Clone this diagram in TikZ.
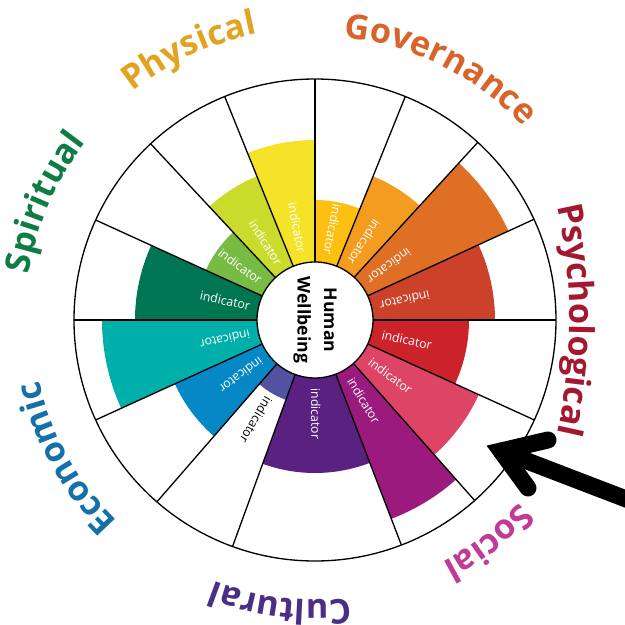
\documentclass[tikz,border=0pt]{standalone}
\usepackage{fontspec}
\setmainfont{Open Sans}
\usetikzlibrary{decorations.text}

% sector colours
\definecolor{cGold}{HTML}{FDC010}
\definecolor{cOrange}{HTML}{F39C1F}
\definecolor{cDarkOrange}{HTML}{DE6F24}
\definecolor{cVermilion}{HTML}{CB4129}
\definecolor{cRed}{HTML}{CC2229}
\definecolor{cPink}{HTML}{DE4465}
\definecolor{cMagenta}{HTML}{9A1A7E}
\definecolor{cPurple}{HTML}{5B2180}
\definecolor{cViolet}{HTML}{5252A0}
\definecolor{cBlue}{HTML}{0687C6}
\definecolor{cTeal}{HTML}{00AFAA}
\definecolor{cDarkGreen}{HTML}{007552}
\definecolor{cLightGreen}{HTML}{78BB43}
\definecolor{cYellowGreen}{HTML}{CADB2C}
\definecolor{cYellow}{HTML}{F5E32A}

% dimension colours
\definecolor{dPhysical}{HTML}{E2A420}
\definecolor{dGovernance}{HTML}{D9642B}
\definecolor{dPsychological}{HTML}{A3172F}
\definecolor{dSocial}{HTML}{C03A96}
\definecolor{dCultural}{HTML}{4A2E87}
\definecolor{dEconomic}{HTML}{1470A6}
\definecolor{dSpiritual}{HTML}{0E7C44}

\newcommand{\dimfont}{\fontsize{19.5}{24}\selectfont\bfseries}

\begin{document}
\begin{tikzpicture}[x=0.2mm, y=0.2mm,
	spoke/.style={line width=0.75pt},
	ind/.style={font=\fontsize{7}{8}\selectfont, text=white, inner sep=0pt},
	dimlabel/.style 2 args={decorate, decoration={text along path, text align=center, text color=#1, text={|\dimfont|#2}}},
	pointer/.style={line width=3.4mm, line cap=round, line join=miter}]
%	\draw [help lines] (-315,-305) grid[step=50] (310,320);  % help lines
	\useasboundingbox (-315,-305) rectangle (310,320);
	
	% coloured sectors
	\fill[cGold] (0,0) -- (90:120) arc[start angle=90, end angle=68, radius=120] -- cycle;
	\fill[cOrange] (0,0) -- (68:155) arc[start angle=68, end angle=47.5, radius=155] -- cycle;
	\fill[cDarkOrange] (0,0) -- (47.5:213) arc[start angle=47.5, end angle=24.7, radius=213] -- cycle;
	\fill[cVermilion] (0,0) -- (24.7:180) arc[start angle=24.7, end angle=0, radius=180] -- cycle;
	\fill[cRed] (0,0) -- (0:154) arc[start angle=0, end angle=-24.5, radius=154] -- cycle;
	\fill[cPink] (0,0) -- (-24.5:180) arc[start angle=-24.5, end angle=-48.5, radius=180] -- cycle;
	\fill[cMagenta] (0,0) -- (-48.5:213) arc[start angle=-48.5, end angle=-69, radius=213] -- cycle;
	\fill[cPurple] (0,0) -- (-69:153) arc[start angle=-69, end angle=-110, radius=153] -- cycle;
	\fill[cViolet] (0,0) -- (-110:85) arc[start angle=-110, end angle=-131, radius=85] -- cycle;
	\fill[cBlue] (0,0) -- (-131:154) arc[start angle=-131, end angle=-155.5, radius=154] -- cycle;
	\fill[cTeal] (0,0) -- (-155.5:213) arc[start angle=-155.5, end angle=-180, radius=213] -- cycle;
	\fill[cDarkGreen] (0,0) -- (180:180) arc[start angle=180, end angle=155.5, radius=180] -- cycle;
	\fill[cLightGreen] (0,0) -- (155.5:120) arc[start angle=155.5, end angle=133, radius=120] -- cycle;
	\fill[cYellowGreen] (0,0) -- (133:155) arc[start angle=133, end angle=112, radius=155] -- cycle;
	\fill[cYellow] (0,0) -- (112:180) arc[start angle=112, end angle=90, radius=180] -- cycle;
	
	% spokes and rims
	\draw[spoke] (90:58) -- (90:241);
	\draw[spoke] (68:58) -- (68:241);
	\draw[spoke] (47.5:58) -- (47.5:241);
	\draw[spoke] (24.7:58) -- (24.7:241);
	\draw[spoke] (0:58) -- (0:241);
	\draw[spoke] (-24.5:58) -- (-24.5:241);
	\draw[spoke] (-48.5:58) -- (-48.5:241);
	\draw[spoke] (-69:58) -- (-69:241);
	\draw[spoke] (-110:58) -- (-110:241);
	\draw[spoke] (-131:58) -- (-131:241);
	\draw[spoke] (-155.5:58) -- (-155.5:241);
	\draw[spoke] (180:58) -- (180:241);
	\draw[spoke] (155.5:58) -- (155.5:241);
	\draw[spoke] (133:58) -- (133:241);
	\draw[spoke] (112:58) -- (112:241);
	\draw[spoke] (0,0) circle[radius=241];
	\draw[spoke, fill=white] (0,0) circle[radius=58];
	
	% hub
	\node[rotate=-90, align=center, font=\fontsize{10}{15}\selectfont\bfseries] (hub) at (0,0) {Human\\Wellbeing};
	
	% indicators
	\node[ind, rotate=-101] (indGold) at (79:92) {indicator};
	\node[ind, rotate=-122.25] (indOrange) at (57.75:92) {indicator};
	\node[ind, rotate=-143.9] (indDarkOrange) at (36.1:92) {indicator};
	\node[ind, rotate=-167.65] (indVermilion) at (12.35:92) {indicator};
	\node[ind, rotate=-12.25] (indRed) at (-12.25:94) {indicator};
	\node[ind, rotate=-36.5] (indPink) at (-36.5:94) {indicator};
	\node[ind, rotate=-58.75] (indMagenta) at (-58.75:94) {indicator};
	\node[ind, rotate=-89.5] (indPurple) at (-89.5:94) {indicator};
	\node[ind, rotate=-120.5, text=black] (indViolet) at (-120.5:116) {indicator};
	\node[ind, rotate=-143.25] (indBlue) at (-143.25:92) {indicator};
	\node[ind, rotate=-167.75] (indTeal) at (-167.75:92) {indicator};
	\node[ind, rotate=-12.25] (indDarkGreen) at (167.75:92) {indicator};
	\node[ind, rotate=-35.75] (indLightGreen) at (144.25:92) {indicator};
	\node[ind, rotate=-57.5] (indYellowGreen) at (122.5:92) {indicator};
	\node[ind, rotate=-79] (indYellow) at (101:94) {indicator};
	
	% dimensions
	\path[dimlabel={dPhysical}{Physical}] (155:292) arc[start angle=155, end angle=75, radius=292];
	\path[dimlabel={dGovernance}{Governance}] (103.5:284) arc[start angle=103.5, end angle=23.5, radius=284];
	\path[dimlabel={dPsychological}{Psychological}] (-250,0) ++(30:505) arc[start angle=30, end angle=-30, radius=505];
	\path[dimlabel={dSocial}{Social}] (-17:274) arc[start angle=-17, end angle=-87, radius=274];
	\path[dimlabel={dCultural}{Cultural}] (-57:280) arc[start angle=-57, end angle=-137, radius=280];
	\path[dimlabel={dEconomic}{Economic}] (249:282) arc[start angle=249, end angle=169, radius=282];
	\path[dimlabel={dSpiritual}{Spiritual}] (196.5:290) arc[start angle=196.5, end angle=116.5, radius=290];
	
	% arrow
	\coordinate (tip) at (186,-131);
	\coordinate (armA) at (233,-120);
	\coordinate (armB) at (213,-168);
	\coordinate (tail) at (345,-192);
	\draw[pointer] (armA) -- (tip) -- (armB);
	\draw[pointer] (tip) -- (tail);
\end{tikzpicture}
\end{document}
